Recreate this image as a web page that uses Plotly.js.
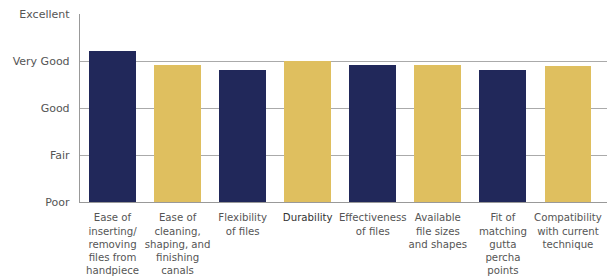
<!DOCTYPE html>
<html>
<head>
<meta charset="utf-8">
<script src="https://cdn.plot.ly/plotly-3.0.1.min.js"></script>
<style>html,body{margin:0;padding:0;background:#fff}#chart{width:616px;height:276px}</style>
</head>
<body>
<div id="chart"></div>
<script>
var categories = [
  "Ease of<br>inserting/<br>removing<br>files from<br>handpiece",
  "Ease of<br>cleaning,<br>shaping, and<br>finishing<br>canals",
  "Flexibility<br>of files",
  "<span style=\"color:#333\">Durability</span>",
  "Effectiveness<br>of files",
  "Available<br>file sizes<br>and shapes",
  "Fit of<br>matching<br>gutta<br>percha<br>points",
  "Compatibility<br>with current<br>technique"
];
var ratings = [4.22, 3.92, 3.81, 4.0, 3.92, 3.92, 3.81, 3.90];
var barColors = ["#21285a", "#dfbf5f", "#21285a", "#dfbf5f", "#21285a", "#dfbf5f", "#21285a", "#dfbf5f"];
var tickValues = [1, 2, 3, 4, 5];
var tickLabels = ["Poor", "Fair", "Good", "Very Good", "Excellent"];

var idx = categories.map(function(_, i){ return i; });
var data = [{
  type: "bar",
  x: idx,
  y: ratings.map(function(v){ return v - 1; }),
  base: 1,
  width: 0.72,
  marker: {color: barColors, line: {width: 0}},
  hoverinfo: "skip"
}];
var layout = {
  width: 616, height: 276,
  margin: {l: 80, r: 9, t: 14, b: 74},
  paper_bgcolor: "#fff", plot_bgcolor: "#fff",
  font: {family: "'DejaVu Sans', sans-serif", size: 10.2, color: "#555"},
  showlegend: false,
  bargap: 0,
  xaxis: {
    tickmode: "array", tickvals: idx, ticktext: categories,
    range: [-0.5, 7.6], showgrid: false, zeroline: false,
    showline: true, linecolor: "#999", linewidth: 1.2,
    ticks: "", tickangle: 0, fixedrange: true,
    tickfont: {family: "'DejaVu Sans', sans-serif", size: 10.2, color: "#555"},
    ticklabelstandoff: 6
  },
  yaxis: {
    tickmode: "array", tickvals: tickValues, ticktext: tickLabels,
    range: [1, 5], showgrid: true, gridcolor: "#aaa", gridwidth: 1,
    zeroline: false, showline: true, linecolor: "#999", linewidth: 1.2,
    ticks: "", ticklabelstandoff: 7, fixedrange: true,
    tickfont: {family: "'DejaVu Sans', sans-serif", size: 11, color: "#555"}
  }
};
Plotly.newPlot("chart", data, layout, {displayModeBar: false, staticPlot: true});
</script>
</body>
</html>
